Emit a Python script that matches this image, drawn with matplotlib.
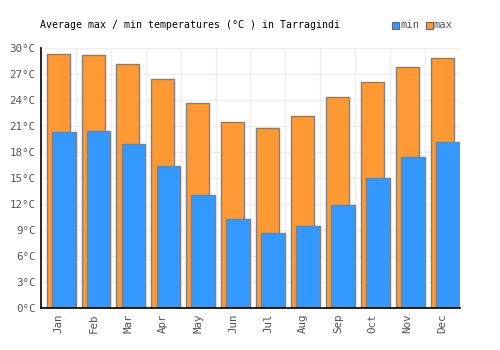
import matplotlib
matplotlib.use("Agg")
import matplotlib.pyplot as plt
import numpy as np
from matplotlib.patches import Rectangle

months = ["Jan", "Feb", "Mar", "Apr", "May", "Jun", "Jul", "Aug", "Sep", "Oct", "Nov", "Dec"]
max_t = [29.3, 29.2, 28.2, 26.4, 23.7, 21.5, 20.8, 22.2, 24.3, 26.1, 27.8, 28.8]
min_t = [20.3, 20.4, 18.9, 16.4, 13.0, 10.3, 8.7, 9.5, 11.9, 15.0, 17.4, 19.2]
yticks = list(range(0, 31, 3))

plt.rcParams['font.family'] = ['DejaVu Sans Mono']
fig = plt.figure(figsize=(5, 3.5), dpi=100)
ax = fig.add_axes([0.082, 0.12, 0.838, 0.743])

x = np.arange(len(months))
ax.bar(x + 0.49, max_t, width=0.66, color="#FF9933", edgecolor="#808080", linewidth=1, zorder=2)
ax.bar(x + 0.65, min_t, width=0.68, color="#3399FF", edgecolor="#808080", linewidth=1, zorder=3)

ax.set_xlim(0, 12)
ax.set_ylim(0, 30)
ax.set_yticks(yticks)
ax.set_yticklabels([f"{v}°C" for v in yticks])
ax.set_xticks(x + 0.5)
ax.set_xticklabels(months, rotation=90)
ax.set_xticks(np.arange(0, 13), minor=True)
ax.tick_params(axis='both', which='major', length=0, labelsize=7.8, labelcolor="#555555", pad=4)
ax.tick_params(axis='x', which='minor', length=0)
ax.grid(True, axis='y', which='major', color="#eeeeee", linewidth=1, zorder=0)
ax.grid(True, axis='x', which='minor', color="#eeeeee", linewidth=1, zorder=0)
ax.set_axisbelow(True)
for s in ['top', 'right']:
    ax.spines[s].set_visible(False)
for s in ['left', 'bottom']:
    ax.spines[s].set_color("black")
    ax.spines[s].set_linewidth(1.2)
    ax.spines[s].set_zorder(5)

fig.text(0.079, 0.928, "Average max / min temperatures (°C ) in Tarragindi", fontsize=7.1, color="black", va="center", ha="left")

# legend
fig.patches.append(Rectangle((0.783, 0.918), 0.014, 0.02, transform=fig.transFigure, facecolor="#3399FF", edgecolor="#666666", linewidth=0.8))
fig.text(0.801, 0.928, "min", fontsize=7.6, color="#555555", va="center", ha="left")
fig.patches.append(Rectangle((0.851, 0.918), 0.014, 0.02, transform=fig.transFigure, facecolor="#FF9933", edgecolor="#666666", linewidth=0.8))
fig.text(0.868, 0.928, "max", fontsize=7.6, color="#555555", va="center", ha="left")

fig.savefig("out.png", dpi=100)
